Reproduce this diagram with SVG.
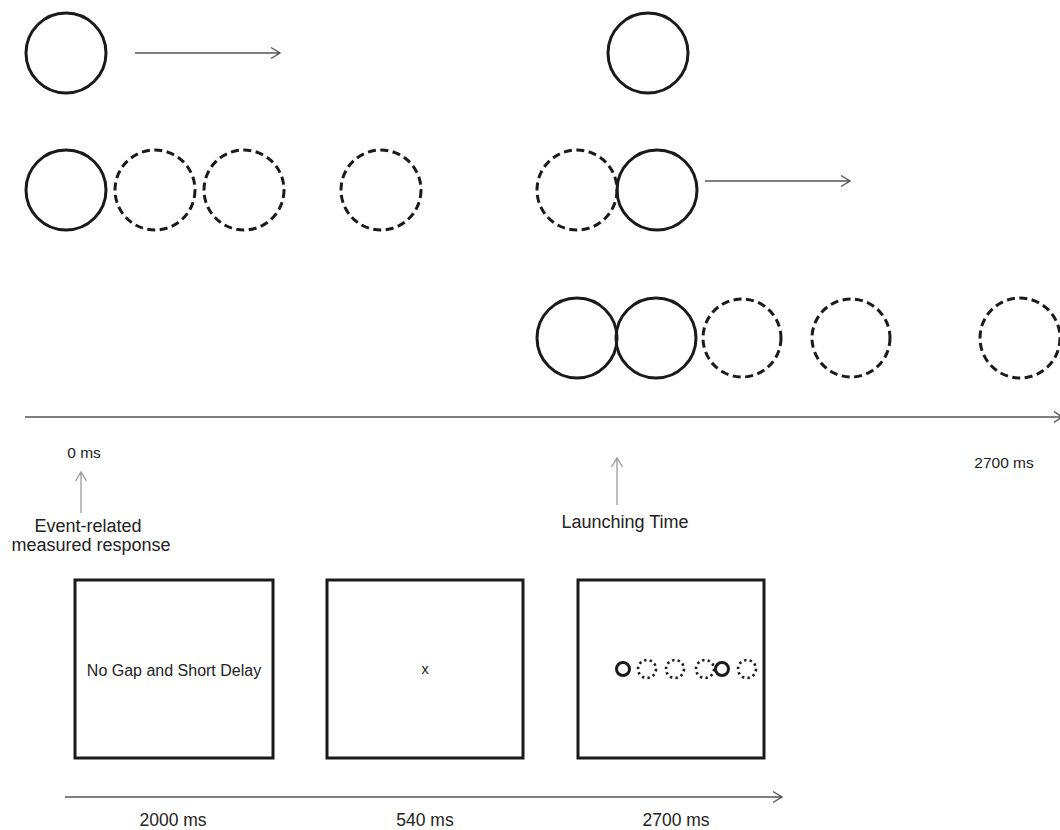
<svg xmlns="http://www.w3.org/2000/svg" width="1060" height="830" viewBox="0 0 1060 830">
<style>
.solid{fill:none;stroke:#1a1a1a;stroke-width:3}
.dash{fill:none;stroke:#1a1a1a;stroke-width:3;stroke-dasharray:8 4.5}
.msolid{fill:none;stroke:#1a1a1a;stroke-width:3}
.mdot{fill:none;stroke:#1a1a1a;stroke-width:2.6;stroke-dasharray:2.4 3.2}
.ln{fill:none;stroke:#555;stroke-width:1.4}
.up{fill:none;stroke:#999;stroke-width:1.3}
.box{fill:#fff;stroke:#1a1a1a;stroke-width:3}
text{font-family:"Liberation Sans",Arial,sans-serif;fill:#222}
</style>
<rect width="1060" height="830" fill="#fff"/>
<g id="row1">
<circle class="solid" cx="66" cy="53" r="40"/>
<circle class="solid" cx="648" cy="53" r="40"/>
</g>
<g id="row2">
<circle class="solid" cx="66" cy="190" r="40"/>
<circle class="dash" cx="155" cy="190" r="40"/>
<circle class="dash" cx="244" cy="190" r="40"/>
<circle class="dash" cx="381" cy="190" r="40"/>
<circle class="dash" cx="577" cy="190" r="40"/>
<circle class="solid" cx="657" cy="190" r="40"/>
</g>
<g id="row3">
<circle class="solid" cx="577" cy="338" r="40"/>
<circle class="solid" cx="656" cy="338" r="40"/>
<circle class="dash" cx="742" cy="338" r="39"/>
<circle class="dash" cx="851" cy="338" r="39"/>
<circle class="dash" cx="1020" cy="338" r="40"/>
</g>
<g id="connectors">
<path class="ln" d="M135 53H280M271 47.5L280 53L271 58.5"/>
<path class="ln" d="M705 181H850M841 175.5L850 181L841 186.5"/>
<path class="ln" d="M25 417H1062M1054 411.5L1062 417L1054 422.5"/>
<path class="up" d="M81 513V472M75.5 481L81 472L86.5 481"/>
<path class="up" d="M617 505V458M611.5 467L617 458L622.5 467"/>
<path class="ln" d="M65 797H782M773 791.5L782 797L773 802.5"/>
</g>
<g id="labels">
<text x="84" y="458" font-size="15.5" text-anchor="middle">0 ms</text>
<text x="1004" y="468" font-size="15.5" text-anchor="middle">2700 ms</text>
<text x="88" y="532" font-size="18" text-anchor="middle">Event-related</text>
<text x="91" y="551" font-size="18" text-anchor="middle">measured response</text>
<text x="625" y="528" font-size="18" text-anchor="middle">Launching Time</text>
<text x="173" y="826" font-size="17.5" text-anchor="middle">2000 ms</text>
<text x="425" y="826" font-size="17.5" text-anchor="middle">540 ms</text>
<text x="676" y="826" font-size="17.5" text-anchor="middle">2700 ms</text>
</g>
<g id="box1">
<rect class="box" x="75" y="580" width="198" height="178"/>
<text x="174" y="676" font-size="16" text-anchor="middle">No Gap and Short Delay</text>
</g>
<g id="box2">
<rect class="box" x="327" y="580" width="196" height="178"/>
<text x="425" y="674" font-size="14.5" text-anchor="middle">x</text>
</g>
<g id="box3">
<rect class="box" x="578" y="580" width="186" height="178"/>
<circle class="msolid" cx="623" cy="669" r="6.5"/>
<circle class="mdot" cx="647" cy="669" r="9"/>
<circle class="mdot" cx="675" cy="669" r="9"/>
<circle class="mdot" cx="705" cy="669" r="9"/>
<circle class="msolid" cx="722" cy="669" r="6.5"/>
<circle class="mdot" cx="747" cy="669" r="9"/>
</g>
</svg>
